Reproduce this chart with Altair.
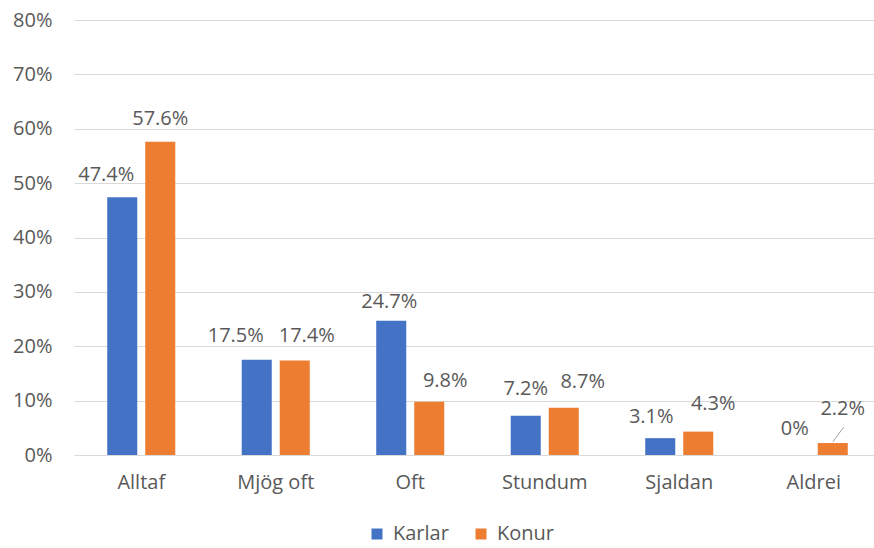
import altair as alt
import pandas as pd

# Survey answers, share of respondents (%) per answer and group
categories = ["Alltaf", "Mjög oft", "Oft", "Stundum", "Sjaldan", "Aldrei"]
series = ["Karlar", "Konur"]
karlar = [47.4, 17.5, 24.7, 7.2, 3.1, 0]
konur = [57.6, 17.4, 9.8, 8.7, 4.3, 2.2]
y_ticks = [0, 10, 20, 30, 40, 50, 60, 70, 80]

rows = []
for cat, k, w in zip(categories, karlar, konur):
    rows.append({"cat": cat, "series": "Karlar", "value": k})
    rows.append({"cat": cat, "series": "Konur", "value": w})
df = pd.DataFrame(rows)

FONT = "Open Sans"
TEXT = "#595959"
GRID = "#D9D9D9"
COLORS = ["#4472C4", "#ED7D31"]
SIZE = 20

x_enc = alt.X(
    "cat:N",
    sort=categories,
    title=None,
    scale=alt.Scale(range=[0, 807], paddingInner=0.494, paddingOuter=0.247),
    axis=alt.Axis(
        labelAngle=0, ticks=False, domain=False, labelFontSize=SIZE,
        labelColor=TEXT, labelFont=FONT, labelPadding=17,
    ),
)
xoff_enc = alt.XOffset(
    "series:N", sort=series, scale=alt.Scale(paddingInner=0.21, paddingOuter=0)
)
y_enc = alt.Y(
    "value:Q",
    title=None,
    scale=alt.Scale(domain=[0, 80], nice=False),
    axis=alt.Axis(
        values=y_ticks, labelExpr="datum.value + '%'", ticks=False, domain=False,
        labelFontSize=SIZE, labelColor=TEXT, labelFont=FONT, labelPadding=22,
        gridColor=GRID, gridWidth=1,
    ),
)

base = alt.Chart(df).encode(x=x_enc, xOffset=xoff_enc, y=y_enc)

bars = base.mark_bar().encode(
    color=alt.Color(
        "series:N",
        sort=series,
        scale=alt.Scale(domain=series, range=COLORS),
        legend=alt.Legend(
            title=None, orient="none", legendX=293, legendY=504,
            direction="horizontal", symbolType="square", symbolSize=121,
            symbolStrokeWidth=0, labelFontSize=SIZE, labelColor=TEXT,
            labelFont=FONT, columnPadding=22, labelOffset=6,
        ),
    )
)

# Data labels, nudged sideways where neighbours would collide
nudges = {
    ("Alltaf", "Karlar"): (-16, -16),
    ("Alltaf", "Konur"): (0, -17),
    ("Mjög oft", "Karlar"): (-21, -18),
    ("Mjög oft", "Konur"): (12, -18),
    ("Oft", "Karlar"): (-2, -13),
    ("Oft", "Konur"): (16, -15),
    ("Stundum", "Karlar"): (0, -21),
    ("Stundum", "Konur"): (19, -20),
    ("Sjaldan", "Karlar"): (-9, -15),
    ("Sjaldan", "Konur"): (15, -22),
    ("Aldrei", "Karlar"): (0, -20),
    ("Aldrei", "Konur"): (10, -28),
}

labels = []
for (cat, ser), (dx, dy) in nudges.items():
    labels.append(
        base.transform_filter((alt.datum.cat == cat) & (alt.datum.series == ser))
        .transform_calculate(label="datum.value + '%'")
        .mark_text(
            dx=dx, dy=dy, baseline="alphabetic", align="center",
            fontSize=SIZE, font=FONT, color=TEXT,
        )
        .encode(text="label:N")
    )

# Leader line from the moved 2.2% label down to its bar
leader = (
    base.transform_filter((alt.datum.cat == "Aldrei") & (alt.datum.series == "Konur"))
    .mark_rule(color="#A6A6A6", strokeWidth=1, x2Offset=30, yOffset=-1, y2Offset=-16)
    .encode(x2=alt.X2("cat:N"), y2=alt.Y2("value:Q"))
)

chart = (
    alt.layer(bars, leader, *labels)
    .properties(
        width=800,
        height=435,
        autosize=alt.AutoSizeParams(type="none"),
        padding={"left": 74, "top": 20, "right": 0, "bottom": 93},
        background="white",
    )
    .configure_view(stroke=None)
)

chart.save("out.html", embed_options={"renderer": "svg", "actions": False})
